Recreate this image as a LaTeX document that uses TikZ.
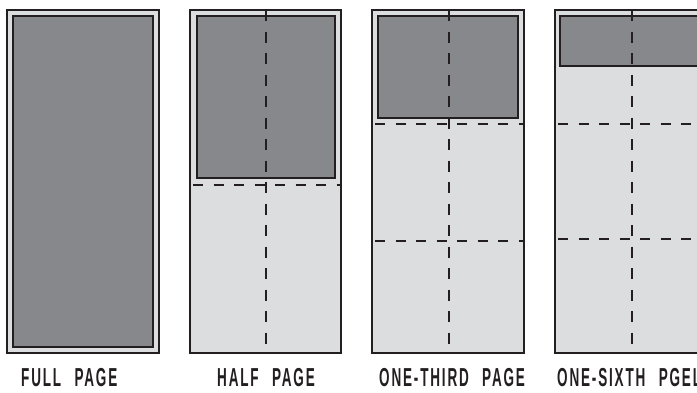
\documentclass[tikz,border=0pt]{standalone}
\usepackage{fontspec}
\newfontfamily\labelfont[FakeStretch=0.52,LetterSpace=7,WordSpace=2.4]{Liberation Sans}
\definecolor{ink}{HTML}{231F20}
\definecolor{darkg}{HTML}{87888C}
\definecolor{lightg}{HTML}{DCDDDF}
\begin{document}
\begin{tikzpicture}[x=1pt,y=-1pt,
  sheet/.style={fill=lightg,draw=ink,line width=1.4pt},
  adblock/.style={fill=darkg,draw=ink,line width=1.4pt},
  vfold/.style={draw=ink,line width=1.6pt,dash pattern=on 11pt off 10.5pt},
  hfold/.style={draw=ink,line width=1.6pt,dash pattern=on 10pt off 10.5pt,dash phase=17.5pt},
  pagelabel/.style={anchor=base west,inner sep=0pt,text=ink,font=\labelfont\bfseries\fontsize{26}{28}\selectfont}]
\useasboundingbox (0,0) rectangle (697,392);
\clip (0,0) rectangle (697,392);
% full page
\draw[sheet] (7,10) rectangle (159,353);
\draw[adblock] (13,16) rectangle (153,347);
% half page
\draw[sheet] (190,10) rectangle (341,353);
\draw[hfold] (190,185) -- (341,185);
\draw[adblock] (197,16) rectangle (335,178);
\draw[vfold] (266,10) -- (266,353);
% one-third page
\draw[sheet] (372,10) rectangle (524,353);
\draw[hfold] (372,124) -- (524,124);
\draw[hfold] (372,241) -- (524,241);
\draw[adblock] (378,16) rectangle (518,118);
\draw[vfold] (449,10) -- (449,353);
% one-sixth page
\draw[sheet] (555,10) rectangle (707,353);
\draw[hfold] (555,124) -- (707,124);
\draw[hfold] (555,239) -- (707,239);
\draw[adblock] (560,16) rectangle (702,66);
\draw[vfold] (632,10) -- (632,353);
% labels
\node[pagelabel] (l1) at (21,386) {FULL PAGE};
\node[pagelabel] (l2) at (217,386) {HALF PAGE};
\node[pagelabel] (l3) at (379,386) {ONE-THIRD PAGE};
\node[pagelabel] (l4) at (557,386) {ONE-SIXTH PGEL};
\end{tikzpicture}
\end{document}
